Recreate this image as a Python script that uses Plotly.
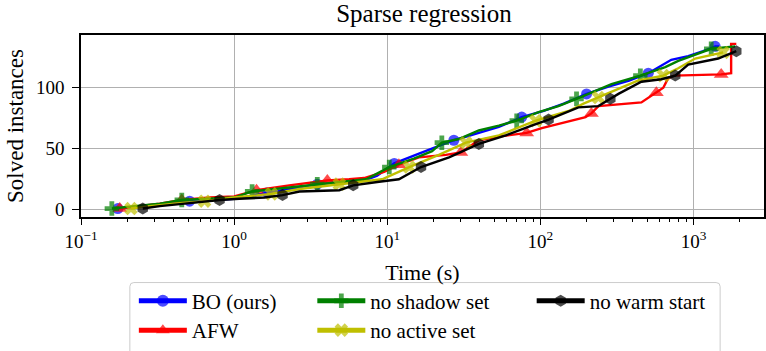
import plotly.graph_objects as go

# ---- data: solve time (s) at which each method reaches a given count of solved instances ----
t_bo = [0.174, 0.242, 0.352, 0.512, 0.745, 1.0, 1.26, 1.65, 2.29, 3.49, 5.24, 7.06, 8.58, 11.1, 16.1,
        21.7, 27.2, 39.6, 53.5, 75.5, 105, 142, 200, 278, 379, 506, 715, 922, 1155, 1383, 1470]
n_bo = [1, 3, 5, 7, 8, 9, 11, 14, 17, 21, 23, 24, 28, 38, 46,
        52, 57, 63, 68, 76, 81, 87, 95, 101, 106, 112, 123, 126, 130, 134, 134]
mk_bo = [0, 3, 7, 9, 13, 16, 19, 22, 25, 29]

t_afw = [0.179, 0.242, 0.327, 0.455, 0.692, 1.0, 1.40, 2.29, 4.06, 5.64, 7.06, 9.53, 11.9, 16.1, 24.1,
         30.2, 39.6, 53.5, 81.3, 102, 160, 197, 215, 239, 456, 506, 571, 634, 683, 747, 1514, 1758, 1758, 1900]
n_afw = [1, 3, 5, 8, 10, 11, 16, 20, 24, 25, 26, 31, 37, 43, 45,
         47, 57, 60, 63, 67, 73, 76, 79, 85, 88, 92, 96, 100, 108, 110, 111, 112, 136, 136]
mk_afw = [0, 3, 6, 8, 12, 15, 18, 22, 26, 30]

t_nss = [0.159, 0.242, 0.327, 0.455, 0.692, 1.0, 1.31, 2.13, 3.49, 5.24, 7.28, 10.3, 14.9, 19.6, 22.7,
         29.3, 39.6, 53.5, 70.0, 97.3, 131, 172, 291, 449, 653, 794, 1024, 1303, 1866]
n_nss = [1, 3, 5, 8, 9, 10, 15, 18, 21, 23, 25, 35, 42, 48, 55,
         58, 65, 69, 73, 80, 85, 91, 103, 110, 117, 122, 127, 132, 134]
mk_nss = [0, 3, 6, 8, 11, 14, 18, 21, 23, 27]

t_nas = [0.212, 0.281, 0.409, 0.641, 1.0, 1.75, 2.67, 4.86, 6.55, 9.25, 13.9, 21.7, 32.6,
         53.5, 93.1, 118, 153, 191, 239, 436, 634, 794, 1024, 1560]
n_nas = [1, 3, 5, 7, 10, 13, 17, 21, 23, 25, 35, 45, 55,
         61, 73, 77, 81, 87, 92, 106, 110, 116, 124, 129]
mk_nas = [0, 3, 5, 7, 10, 12, 14, 18, 20, 23]

t_nws = [0.253, 0.327, 0.475, 0.803, 1.08, 1.58, 2.07, 2.67, 4.86, 5.99, 8.84, 11.9, 16.6, 25.3,
         39.6, 59.4, 87.6, 113, 177, 239, 286, 323, 456, 615, 759, 922, 1446, 1900]
n_nws = [1, 3, 5, 8, 9, 10, 12, 15, 16, 20, 23, 25, 35, 43,
         54, 61, 69, 74, 84, 85, 91, 95, 105, 107, 110, 119, 124, 130]
mk_nws = [0, 3, 6, 9, 12, 14, 17, 20, 24, 27]

labels = ["BO (ours)", "AFW", "no shadow set", "no active set", "no warm start"]
x_tick_vals = [0.1, 1, 10, 100, 1000]
x_tick_text = ["10<sup>\u22121</sup>", "10<sup>0</sup>", "10<sup>1</sup>", "10<sup>2</sup>", "10<sup>3</sup>"]
y_tick_vals = [0, 50, 100]

# ---- styling ----
FONT = "Liberation Serif"
W, H = 766, 351
L, R, T, B = 81, 766, 35, 221          # plot-area edges in pixels
DECADE_PX = 153.6                      # width of one decade on the time axis
colors = ["#0000ff", "#ff0000", "#008000", "#bfbf00", "#000000"]
symbols = ["circle", "triangle-up", "cross", "x", "hexagon"]
msizes = [11, 13, 12, 12, 12]


def px_x(p):
    return (p - L) / (R - L)


def px_y(p):
    return (B - p) / (B - T)


# legend cells: (left px of item, centre px of row)
legend_cells = [(134, 307), (134, 337), (313, 307), (313, 337), (533, 307)]

series = [
    (t_bo, n_bo, mk_bo),
    (t_afw, n_afw, mk_afw),
    (t_nss, n_nss, mk_nss),
    (t_nas, n_nas, mk_nas),
    (t_nws, n_nws, mk_nws),
]

fig = go.Figure()
for i, (t, n, mk) in enumerate(series):
    sizes = [msizes[i] if k in mk else 0 for k in range(len(t))]
    lg = "legend" if i == 0 else f"legend{i + 1}"
    fig.add_trace(go.Scatter(
        x=t, y=n, mode="lines+markers", name=labels[i],
        line=dict(color=colors[i], width=2.4),
        marker=dict(symbol=symbols[i], size=sizes, color=colors[i], line=dict(width=0)),
        legend=lg, showlegend=True, hoverinfo="skip",
    ))

legend_layout = {}
for i, (lx, ly) in enumerate(legend_cells):
    key = "legend" if i == 0 else f"legend{i + 1}"
    legend_layout[key] = dict(
        x=px_x(lx), y=px_y(ly), xanchor="left", yanchor="middle",
        xref="paper", yref="paper",
        bgcolor="rgba(0,0,0,0)", borderwidth=0,
        font=dict(family=FONT, size=21, color="black"),
        itemsizing="constant", itemwidth=48,
    )

# rounded legend frame
fl, fr, ft, fb = 130, 722, 288, 380
rx, ry = 4 / (R - L), 4 / (B - T)
x0, x1, y0, y1 = px_x(fl), px_x(fr), px_y(fb), px_y(ft)
frame_path = (f"M{x0 + rx},{y1} L{x1 - rx},{y1} Q{x1},{y1} {x1},{y1 - ry} "
              f"L{x1},{y0 + ry} Q{x1},{y0} {x1 - rx},{y0} L{x0 + rx},{y0} "
              f"Q{x0},{y0} {x0},{y0 + ry} L{x0},{y1 - ry} Q{x0},{y1} {x0 + rx},{y1} Z")

minor_vals = [m * 10 ** e for e in range(-1, 4) for m in range(2, 10)]

fig.update_layout(
    width=W, height=H,
    showlegend=True,
    margin=dict(l=L, r=W - R, t=T, b=H - B, pad=0),
    paper_bgcolor="white", plot_bgcolor="white",
    font=dict(family=FONT, color="black"),
    title=dict(text="Sparse regression", x=px_x(425), xref="paper", xanchor="center",
               y=1 - 13 / H, yref="container", yanchor="middle",
               font=dict(family=FONT, size=25, color="black")),
    shapes=[dict(type="path", path=frame_path, xref="paper", yref="paper",
                 line=dict(color="#cccccc", width=1), fillcolor="rgba(255,255,255,0.8)",
                 layer="below")],
    **legend_layout,
)

fig.update_xaxes(
    type="log", range=[-1, -1 + (R - L) / DECADE_PX],
    tickmode="array", tickvals=x_tick_vals, ticktext=x_tick_text,
    ticks="outside", ticklen=6, tickwidth=1.2, tickcolor="black",
    tickfont=dict(family=FONT, size=19, color="black"),
    showline=True, linecolor="black", linewidth=1.5, mirror=True,
    showgrid=True, gridcolor="#b0b0b0", gridwidth=1.1, zeroline=False,
    minor=dict(tickmode="array", tickvals=minor_vals, ticks="outside", ticklen=3.5,
               tickwidth=1, tickcolor="black", showgrid=False),
    title=dict(text="Time (s)", font=dict(family=FONT, size=22, color="black"), standoff=14),
)
fig.update_yaxes(
    range=[-5.94, 143.3],
    tickmode="array", tickvals=y_tick_vals,
    ticks="outside", ticklen=7, tickwidth=1.2, tickcolor="black",
    tickfont=dict(family=FONT, size=19, color="black"), ticklabelstandoff=4,
    showline=True, linecolor="black", linewidth=1.5, mirror=True,
    showgrid=True, gridcolor="#b0b0b0", gridwidth=1.1, zeroline=False,
    title=dict(text="Solved instances", font=dict(family=FONT, size=23, color="black"), standoff=6),
)

fig.write_html("out.html")
